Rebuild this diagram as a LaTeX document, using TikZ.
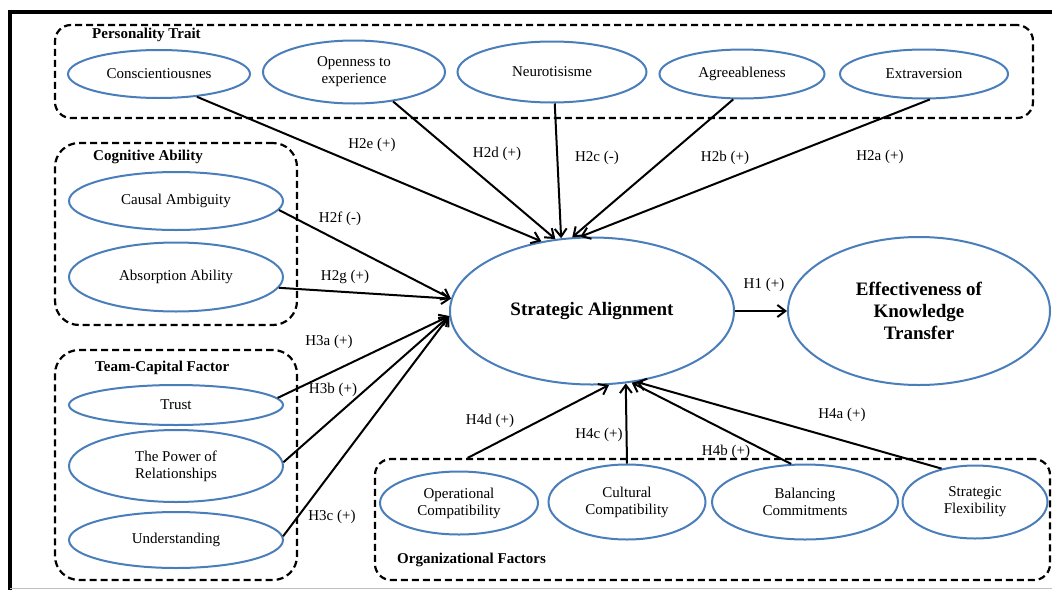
\documentclass[tikz,border=0pt]{standalone}
\usepackage{fontspec}
\setmainfont{Liberation Serif}
\usetikzlibrary{shapes.geometric,arrows.meta}
\definecolor{ovalblue}{HTML}{4A7EBB}
\tikzset{sz/.style 2 args={minimum width=#1pt, minimum height=#2pt}}

\begin{document}
\begin{tikzpicture}[x=1pt, y=-1pt, every node/.style={font=\fontsize{15}{17}\selectfont}, >={Straight Barb[length=8pt,width=12pt]},
	oval/.style={ellipse, draw=ovalblue, line width=2pt, fill=white, inner sep=0pt, align=center},
	group/.style={rectangle, draw, line width=2.2pt, dash pattern=on 7pt off 4pt, rounded corners=16pt},
	grouplabel/.style={anchor=west, inner sep=0pt, font=\fontsize{15}{17}\selectfont\bfseries},
	link/.style={->, line width=2pt}]
	\useasboundingbox (0,0) rectangle (1052,592);
	% frame
	\draw[line width=3.5pt] (1060,12) -- (10,12) -- (10,590);
	\draw[gray!50, line width=1pt] (10,588) -- (1052,588);

	% groups
	\node[group, sz={978}{93}] (pers) at (544,71.5) {};
	\node[group, sz={242}{182}, rounded corners=24pt] (cogn) at (176,234) {};
	\node[group, sz={242}{230}, rounded corners=24pt] (team) at (176,465) {};
	\node[group, sz={675}{121}] (orgf) at (712.5,519.5) {};
	\node[grouplabel] (persl) at (92,35) {Personality Trait};
	\node[grouplabel] (cognl) at (93,157) {Cognitive Ability};
	\node[grouplabel] (teaml) at (95,368) {Team-Capital Factor};
	\node[grouplabel] (orgfl) at (397,560) {Organizational Factors};

	% constructs
	\node[oval, sz={182}{48}] (cons) at (159,74) {Conscientiousnes};
	\node[oval, sz={182}{63}] (open) at (354,72) {Openness to\\experience};
	\node[oval, sz={189}{61}] (neur) at (552,72) {Neurotisisme};
	\node[oval, sz={165}{49}] (agre) at (742,74) {Agreeableness};
	\node[oval, sz={168}{49}] (extr) at (924,74) {Extraversion};
	\node[oval, sz={214}{58}] (caus) at (176,201) {Causal Ambiguity};
	\node[oval, sz={214}{69}] (abso) at (176,277) {Absorption Ability};
	\node[oval, sz={214}{40}] (trus) at (176,405) {Trust};
	\node[oval, sz={214}{72}] (powr) at (176,466) {The Power of\\Relationships};
	\node[oval, sz={214}{56}] (undr) at (176,540) {Understanding};
	\node[oval, sz={158}{63}] (oper) at (459,503) {Operational\\Compatibility};
	\node[oval, sz={157}{75}] (cult) at (627,502) {Cultural\\Compatibility};
	\node[oval, sz={186}{75}] (bala) at (805,502) {Balancing\\Commitments};
	\node[oval, sz={145}{73}] (flex) at (975,502) {Strategic\\Flexibility};
	\node[oval, sz={284}{147}, font=\fontsize{19}{22}\selectfont\bfseries] (sa) at (592,311) {Strategic Alignment};
	\node[oval, sz={262}{148}, font=\fontsize{19}{22}\selectfont\bfseries] (ekt) at (919,311) {Effectiveness of\\Knowledge\\Transfer};

	% hypotheses
	\foreach \src/\dst in {cons.-31/sa.126, open.-37/sa.117, neur.-85/sa.113, agre.-109/sa.105, extr.-77/sa.99,
		caus.-5/sa.175, abso.-6/sa.175, trus.4/sa.182, powr.2/sa.182, undr.2/sa.182,
		oper.75 |- orgf.north/sa.-77, cult.north/sa.-65, bala.110/sa.-61, flex.135/sa.-58, sa/ekt}
		\draw[link] (\src) -- (\dst);
	\foreach \name/\pos/\txt in {h2e/{372,145}/H2e (+), h2d/{497,154}/H2d (+), h2c/{597,158}/H2c (-), h2b/{725,158}/H2b (+), h2a/{880,157}/H2a (+),
		h2f/{340,219}/H2f (-), h2g/{345,277}/H2g (+), h3a/{329,342}/H3a (+), h3b/{333,390}/H3b (+), h3c/{332,517}/H3c (+),
		h1/{764,285}/H1 (+), h4d/{490,421}/H4d (+), h4c/{599,435}/H4c (+), h4b/{726,452}/H4b (+), h4a/{842,415}/H4a (+)}
		\node (\name) at (\pos) {\txt};
\end{tikzpicture}
\end{document}
